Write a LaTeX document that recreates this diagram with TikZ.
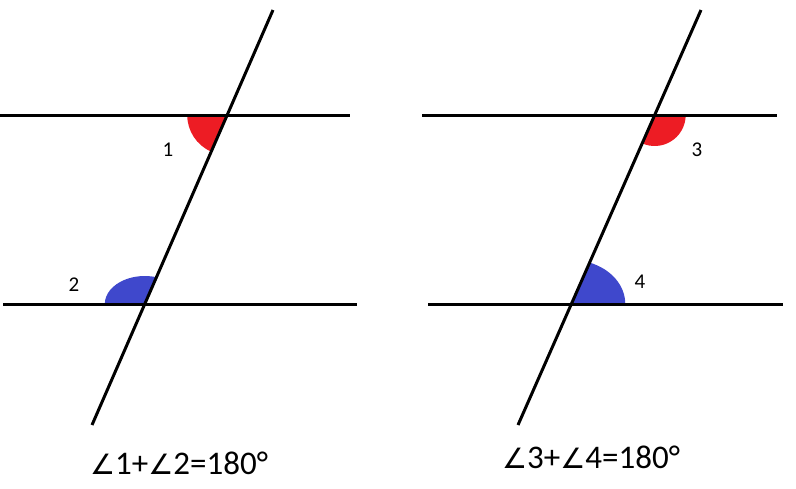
\documentclass[tikz,border=0pt]{standalone}
\usepackage{fontspec}
\setmainfont{Carlito}
\newfontfamily\dvs{DejaVu Sans}
\newcommand{\ang}{{\dvs\fontsize{28}{28}\selectfont ∠}}
\begin{document}
\begin{tikzpicture}[x=1pt,y=-1pt,
  ln/.style={line width=3pt,black},
  redang/.style={fill={rgb,255:red,237;green,28;blue,36}},
  blueang/.style={fill={rgb,255:red,63;green,72;blue,204}},
  lbl/.style={font=\fontsize{21}{21}\selectfont,inner sep=0pt},
  eq/.style={font=\fontsize{33}{33}\selectfont,inner sep=0pt}]
\useasboundingbox (0,0) rectangle (796,488);
% left figure
\coordinate (A) at (273,10);
\coordinate (B) at (92,425);
\coordinate (P) at (227.2,115);
\coordinate (Q) at (144.8,304);
\fill[redang] (P) -- ++(-40,0) arc[start angle=180,end angle=113.6,radius=40] -- cycle;
\fill[blueang] (Q) -- ++(-40,0) arc[start angle=-180,end angle=-73,x radius=40,y radius=28] -- cycle;
\coordinate (L1a) at (0,115); \coordinate (L1b) at (350,115);
\coordinate (L2a) at (3,304); \coordinate (L2b) at (357,304);
\draw[ln] (L1a) -- (L1b);
\draw[ln] (L2a) -- (L2b);
\draw[ln] (A) -- (B);
\node[lbl] (n1) at (168,150) {1};
\node[lbl] (n2) at (74,285) {2};
\node[eq] (e1) at (179,463) {\ang1+\ang2=180°};
% right figure
\coordinate (C) at (701,10);
\coordinate (D) at (518,425);
\coordinate (R) at (654.7,115);
\coordinate (S) at (571.3,304);
\fill[redang] (R) -- ++(31,0) arc[start angle=0,end angle=113.8,radius=31] -- cycle;
\fill[blueang] (S) -- ++(54,0) arc[start angle=0,end angle=-70.3,x radius=54,y radius=44] -- cycle;
\coordinate (R1a) at (422,115); \coordinate (R1b) at (777,115);
\coordinate (R2a) at (428,304); \coordinate (R2b) at (783,304);
\draw[ln] (R1a) -- (R1b);
\draw[ln] (R2a) -- (R2b);
\draw[ln] (C) -- (D);
\node[lbl] (n3) at (697,150) {3};
\node[lbl] (n4) at (640,282) {4};
\node[eq] (e2) at (591,457) {\ang3+\ang4=180°};
\end{tikzpicture}
\end{document}
